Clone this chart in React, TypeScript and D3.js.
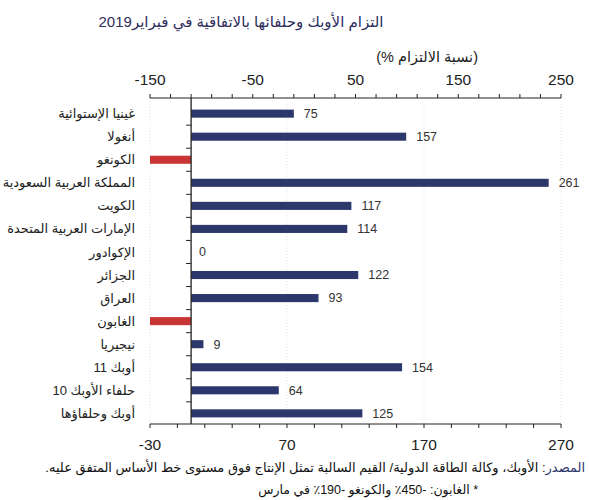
import React from 'react'
import * as d3 from 'd3'

const categories = [
  'غينيا الإستوائية',
  'أنغولا',
  'الكونغو',
  'المملكة العربية السعودية',
  'الكويت',
  'الإمارات العربية المتحدة',
  'الإكوادور',
  'الجزائر',
  'العراق',
  'الغابون',
  'نيجيريا',
  'أوبك 11',
  'حلفاء الأوبك 10',
  'أوبك وحلفاؤها'
]
const compliance = [75, 157, -190, 261, 117, 114, 0, 122, 93, -450, 9, 154, 64, 125]
const bottomTicks = [-30, 70, 170, 270]
const topTicks = [-150, -50, 50, 150, 250]

const W = 589
const H = 500
const left = 150
const right = 561
const top = 98
const bottom = 424

const NAVY = '#2c376c'
const RED = '#c93434'
const FONT = '"Liberation Sans", "DejaVu Sans", Arial, sans-serif'

export default function App() {
  const x = d3.scaleLinear().domain([-30, 270]).range([left, right])
  const xTop = d3.scaleLinear().domain([-150, 250]).range([left, right])
  const y = d3.scaleBand<string>().domain(categories).range([top + 4, bottom + 1]).paddingInner(0.65).paddingOuter(0.33)
  const step = y.step()
  const x0 = x(0)

  const minorBottom = d3.range(-30, 271, 20)
  const minorTop = d3.range(-150, 251, 20)

  return (
    <svg width={W} height={H} style={{ position: 'absolute', left: 0, top: 0, background: '#fff' }} fontFamily={FONT}>
      {/* title */}
      <text x={241} y={27} textAnchor="middle" direction="rtl" fontSize={15} fill="#2e2d5c">
        التزام الأوبك وحلفائها بالاتفاقية في فبراير2019
      </text>
      <text x={478} y={62} textAnchor="end" direction="ltr" fontSize={14.5} fill="#222">
        {'(% \u2067نسبة الالتزام\u2069)'}
      </text>

      {/* grid */}
      {bottomTicks.map(t => (
        <line key={'g' + t} x1={x(t)} x2={x(t)} y1={top} y2={bottom} stroke="#ddd" strokeWidth={0.8} strokeDasharray="1,2" />
      ))}

      {/* top axis */}
      <line x1={left} x2={right} y1={top} y2={top} stroke="#222" strokeWidth={1.2} />
      {minorTop.map(t => (
        <line key={'tt' + t} x1={xTop(t)} x2={xTop(t)} y1={top} y2={top - 4} stroke="#222" strokeWidth={1} />
      ))}
      {topTicks.map(t => (
        <text key={'tl' + t} x={xTop(t)} y={85} textAnchor="middle" fontSize={15.5} fill="#222">{t}</text>
      ))}

      {/* bottom axis */}
      <line x1={left} x2={right} y1={bottom} y2={bottom} stroke="#222" strokeWidth={1.2} />
      {minorBottom.map(t => (
        <line key={'bt' + t} x1={x(t)} x2={x(t)} y1={bottom} y2={bottom + 4} stroke="#222" strokeWidth={1} />
      ))}
      {bottomTicks.map(t => (
        <text key={'bl' + t} x={x(t)} y={450} textAnchor="middle" fontSize={15.5} fill="#222">{t}</text>
      ))}

      {/* bars */}
      {categories.map((c, i) => {
        const v = compliance[i]
        const xv = x(Math.max(v, -30))
        const yy = y(c) as number
        return (
          <g key={c}>
            <rect x={Math.min(x0, xv)} y={yy} width={Math.abs(xv - x0)} height={y.bandwidth()} fill={v < 0 ? RED : NAVY} />
            {v >= 0 && (
              <text x={xv + (v === 0 ? 8 : 10)} y={yy + y.bandwidth() / 2} dy="0.35em" fontSize={12.5} fill="#333">{v}</text>
            )}
            <text x={135} y={yy + y.bandwidth() / 2} dy="0.35em" textAnchor="start" direction="rtl" fontSize={13} fill="#222">{c}</text>
          </g>
        )
      })}

      {/* zero line and category ticks */}
      <line x1={x0} x2={x0} y1={top} y2={bottom} stroke="#222" strokeWidth={1.3} />
      {categories.slice(1).map((c, i) => {
        const yb = (y(c) as number) - (step - y.bandwidth()) / 2
        return <line key={'ct' + i} x1={x0 - 5} x2={x0} y1={yb} y2={yb} stroke="#222" strokeWidth={1} />
      })}

      {/* footer */}
      <text x={585} y={472} textAnchor="start" direction="rtl" fontSize={13} fill="#111">
        <tspan fill={NAVY}>المصدر</tspan>: الأوبك، وكالة الطاقة الدولية/ القيم السالبة تمثل الإنتاج فوق مستوى خط الأساس المتفق عليه.
      </text>
      <text x={478} y={494} textAnchor="start" direction="rtl" fontSize={12.5} fill="#111">
        * الغابون: -450٪ والكونغو -190٪ في مارس
      </text>
    </svg>
  )
}
